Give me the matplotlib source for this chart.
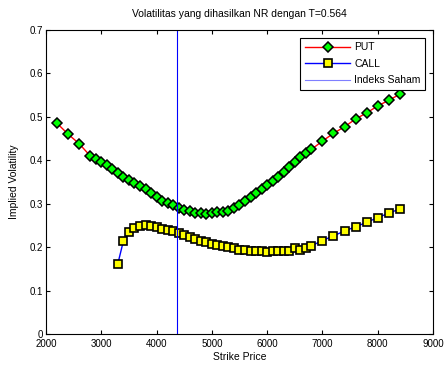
import matplotlib
matplotlib.use("Agg")
import matplotlib.pyplot as plt

plt.rcParams['font.family'] = ['Liberation Sans', 'DejaVu Sans']

put_strike = [2200, 2400, 2600, 2800, 2900, 3000, 3100, 3200, 3300, 3400, 3500, 3600, 3700,
              3800, 3900, 4000, 4100, 4200, 4300, 4400, 4500, 4600, 4700, 4800, 4900, 5000,
              5100, 5200, 5300, 5400, 5500, 5600, 5700, 5800, 5900, 6000, 6100, 6200, 6300,
              6400, 6500, 6600, 6700, 6800, 7000, 7200, 7400, 7600, 7800, 8000, 8200, 8400]
put_iv = [0.485, 0.460, 0.438, 0.410, 0.402, 0.395, 0.388, 0.379, 0.370, 0.361, 0.355, 0.347, 0.341,
          0.333, 0.324, 0.315, 0.307, 0.302, 0.297, 0.291, 0.285, 0.282, 0.279, 0.278, 0.276, 0.278,
          0.280, 0.281, 0.284, 0.291, 0.298, 0.307, 0.316, 0.325, 0.334, 0.343, 0.352, 0.361, 0.372,
          0.384, 0.396, 0.408, 0.417, 0.425, 0.444, 0.462, 0.477, 0.495, 0.509, 0.525, 0.538, 0.552]

call_strike = [3300, 3400, 3500, 3600, 3700, 3800, 3900, 4000, 4100, 4200, 4300, 4400, 4500,
               4600, 4700, 4800, 4900, 5000, 5100, 5200, 5300, 5400, 5500, 5600, 5700, 5800,
               5900, 6000, 6100, 6200, 6300, 6400, 6500, 6600, 6700, 6800, 7000, 7200, 7400,
               7600, 7800, 8000, 8200, 8400]
call_iv = [0.162, 0.214, 0.234, 0.245, 0.249, 0.250, 0.249, 0.246, 0.242, 0.239, 0.236, 0.233, 0.229,
           0.224, 0.219, 0.215, 0.211, 0.207, 0.205, 0.203, 0.200, 0.197, 0.194, 0.193, 0.192, 0.192,
           0.191, 0.189, 0.191, 0.191, 0.192, 0.191, 0.199, 0.193, 0.197, 0.203, 0.215, 0.226, 0.237,
           0.247, 0.257, 0.268, 0.278, 0.288]

index_price = 4370

title = "Volatilitas yang dihasilkan NR dengan T=0.564"
xlabel = "Strike Price"
ylabel = "Implied Volatility"
xticks = [2000, 3000, 4000, 5000, 6000, 7000, 8000, 9000]
yticks = [0, 0.1, 0.2, 0.3, 0.4, 0.5, 0.6, 0.7]
ytick_labels = ["0", "0.1", "0.2", "0.3", "0.4", "0.5", "0.6", "0.7"]

fig = plt.figure(figsize=(4.44, 3.65), dpi=100)
ax = fig.add_axes([0.1036, 0.085, 0.8716, 0.833])

ax.plot(put_strike, put_iv, '-', color='red', lw=1.0, marker='D', markersize=5.5,
        markerfacecolor='#00ff00', markeredgecolor='black', markeredgewidth=1.1, label='PUT')
ax.plot(call_strike, call_iv, '-', color='blue', lw=1.0, marker='s', markersize=6,
        markerfacecolor='yellow', markeredgecolor='black', markeredgewidth=1.2, label='CALL')
ax.axvline(index_price, color='blue', lw=0.8, label='Indeks Saham')

ax.set_xlim(2000, 9000)
ax.set_ylim(0, 0.7)
ax.set_xticks(xticks)
ax.set_xticklabels([str(t) for t in xticks])
ax.set_yticks(yticks)
ax.set_yticklabels(ytick_labels)
ax.tick_params(direction='in', length=3, labelsize=7, top=True, right=True)
ax.tick_params(axis='x', pad=3.5)
ax.tick_params(axis='y', pad=2)
for s in ax.spines.values():
    s.set_linewidth(0.8)

ax.set_title(title, fontsize=7.5, pad=9)
ax.set_xlabel(xlabel, fontsize=7.5, labelpad=2.5)
ax.set_ylabel(ylabel, fontsize=7.5, labelpad=8)

leg = ax.legend(loc='upper right', fontsize=7.5, handlelength=4.3, fancybox=False,
                edgecolor='black', framealpha=1, borderpad=0.45, labelspacing=0.62,
                handletextpad=0.4, borderaxespad=0.75)
leg.get_frame().set_linewidth(0.8)
leg.get_lines()[2].set_color('#7f7fff')

fig.savefig('out.png', dpi=100)
